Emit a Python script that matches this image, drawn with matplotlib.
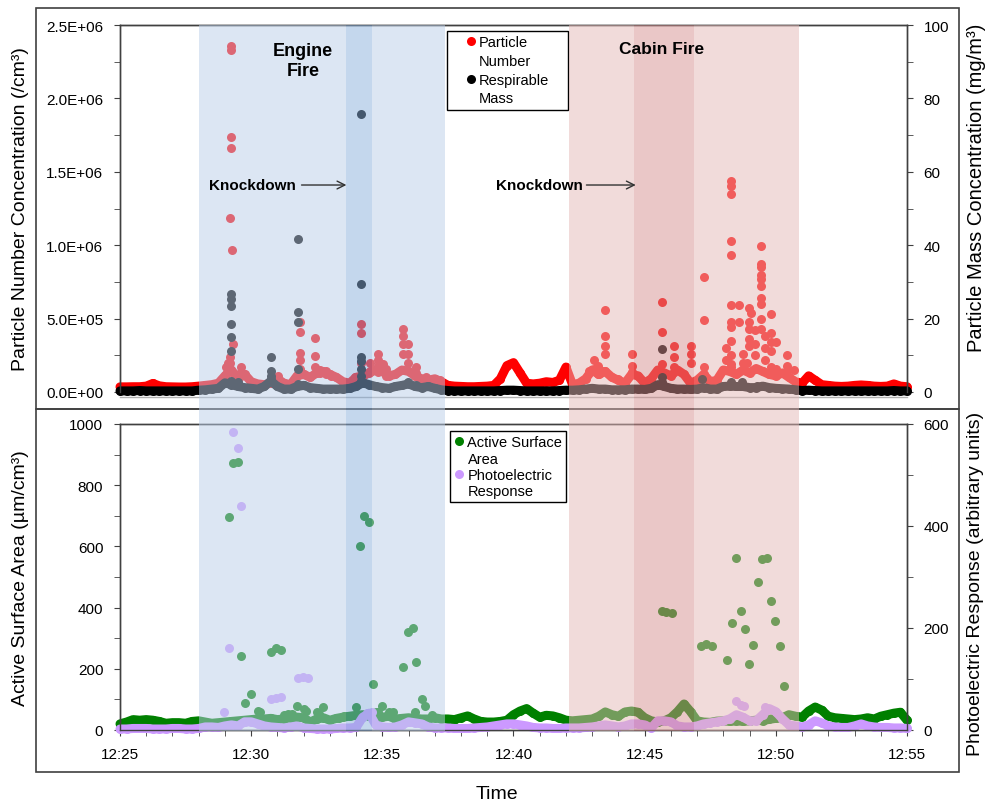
import numpy as np
import matplotlib
matplotlib.use("Agg")
import matplotlib.pyplot as plt
from matplotlib.patches import Rectangle, FancyArrowPatch
from matplotlib.lines import Line2D
import matplotlib.transforms as mtransforms
from matplotlib.ticker import MultipleLocator, FuncFormatter

plt.rcParams['font.family'] = ['Liberation Sans', 'DejaVu Sans']

# ---------------- data (time = minutes after 12:25) ----------------
STEP = 0.25  # base series sampled every 15 s
x_tick_labels = ["12:25", "12:30", "12:35", "12:40", "12:45", "12:50", "12:55"]

# Particle number concentration baseline (x1000 /cm3)
pn_base = [35, 35, 36, 36, 40, 58, 42, 36, 35, 34, 34, 36,
           40, 45, 50, 60, 110, 150, 90, 120, 70, 55, 50, 60, 90, 60, 50, 110, 120, 100, 130, 140, 120, 100,
           70, 60, 100, 110, 130, 150, 140, 110, 120, 150, 140, 110, 90, 80, 90, 70,
           45, 40, 38, 36, 36, 38, 40, 45, 90, 180, 200, 130, 60, 55, 60, 70, 65, 80, 170,
           50, 60, 90, 150, 120, 140, 100, 80, 60, 120, 110, 60, 90, 150, 130, 110, 150, 120, 60, 80,
           120, 70, 80, 150, 140, 120, 150, 130, 160, 140, 120, 110, 130, 100, 70,
           60, 110, 80, 50, 45, 40, 38, 40, 45, 48, 45, 40, 38, 40, 55, 40, 36]
# Particle number spikes: (time, values x1000 /cm3)
pn_spikes = [(4.24, [2360, 2330, 1740, 1660]), (4.20, [1185, 240, 200]), (4.27, [967]), (4.31, [327]),
             (4.05, [170, 120]), (4.12, [200, 150]), (4.62, [170, 136]), (4.50, [110]), (5.92, [90]),
             (6.03, [110]), (6.87, [480, 410, 265, 220, 160]), (7.44, [370, 245, 170]), (7.63, [150, 130]),
             (7.86, [140, 120]), (8.05, [110]), (8.97, [100]), (9.20, [460, 400, 200]), (9.54, [200, 140]),
             (9.85, [260, 220, 180, 135]), (10.04, [190, 140]), (10.15, [160, 110]),
             (10.80, [430, 380, 330, 260]), (10.99, [330, 260, 200]), (11.30, [170, 130]), (11.68, [100]),
             (12.02, [90]), (12.20, [85]),
             (17.86, [140]), (18.05, [220, 160]), (18.24, [180, 120]), (18.36, [140]),
             (18.50, [560, 380, 310, 260]), (19.00, [90]), (19.50, [260, 180, 136]), (20.65, [610, 410, 190]),
             (21.10, [310, 240, 170]), (21.76, [310, 260, 200]), (22.25, [780, 490, 170]),
             (23.10, [300, 220]),
             (23.28, [1440, 1400, 1350, 1030, 930, 590, 480, 440, 350, 250, 190, 170]), (23.59, [590, 480]),
             (23.75, [260, 200]), (23.89, [200]), (23.97, [570, 480, 430, 360, 310]), (24.05, [540]),
             (24.20, [420, 330, 250]),
             (24.43, [995, 870, 850, 800, 770, 720, 640, 600, 500, 430]), (24.60, [380, 300, 220]),
             (24.81, [530, 400, 340, 280, 170]), (25.00, [340, 160]), (25.42, [250, 180, 140]), (25.70, [150])]

# Respirable mass baseline (mg/m3)
rm_base = [0.3, 0.3, 0.3, 0.4, 0.3, 0.3, 0.3, 0.3, 0.3, 0.3, 0.3, 0.3,
           0.5, 0.6, 0.8, 1.0, 2.5, 2.0, 1.5, 1.2, 1.0, 0.8, 1.5, 3.0, 1.5, 0.8, 0.8, 1.5, 1.8, 1.2, 1.0, 0.8,
           0.8, 0.8, 0.8, 1.0, 1.5, 2.5, 2.0, 1.5, 1.2, 1.0, 1.5, 1.8, 2.2, 1.5, 1.2, 1.5, 1.0, 0.6,
           0.4, 0.3, 0.3, 0.3, 0.3, 0.3, 0.3, 0.3, 0.4, 0.5, 0.5, 0.4, 0.3, 0.3, 0.3, 0.3, 0.3, 0.4, 0.5,
           0.5, 0.6, 0.8, 1.0, 0.8, 0.8, 0.6, 0.6, 0.6, 0.8, 0.8, 0.7, 1.0, 2.0, 1.5, 1.0, 0.8, 0.8, 0.7, 0.8,
           1.2, 0.8, 0.8, 1.5, 1.6, 1.5, 1.5, 1.2, 1.2, 1.6, 1.2, 1.0, 0.9, 0.8, 0.6,
           0.4, 0.5, 0.4, 0.3, 0.3, 0.3, 0.3, 0.3, 0.3, 0.3, 0.3, 0.3, 0.3, 0.3, 0.4, 0.3, 0.3]
rm_spikes = [(4.24, [26.7, 25.3, 23.5, 18.5, 15.0, 11.2, 3.0]), (4.50, [2.7]), (5.77, [9.5, 5.8, 4.4, 3.5]),
             (6.80, [41.7, 21.8, 19.0, 6.3, 2.2]), (9.17, [75.7, 29.4, 9.5, 8.4, 6.3, 4.4, 3.0]),
             (10.99, [2.7]), (11.30, [2.0]), (20.65, [11.7, 4.1, 2.7]), (22.20, [3.5]), (23.30, [2.7]),
             (23.70, [2.7]), (24.30, [1.6])]

# Active surface area baseline (um2/cm3)
asa_base = [20, 26, 34, 32, 34, 32, 28, 22, 24, 24, 22, 28,
            30, 26, 22, 24, 26, 28, 30, 32, 34, 36, 36, 38, 34, 36, 40, 42, 40, 26, 36, 40, 32, 38, 42, 45,
            48, 50, 45, 40, 42, 45, 36, 38, 40, 38, 36, 36, 40, 36,
            36, 34, 40, 46, 36, 28, 26, 26, 28, 32, 50, 62, 70, 55, 42, 48, 46, 40, 32,
            30, 32, 34, 36, 45, 59, 50, 45, 59, 62, 58, 40, 30, 26, 30, 40, 60, 85, 60, 30, 26, 25, 29, 30,
            28, 30, 28, 30, 32, 30, 35, 38, 40, 50, 45,
            42, 62, 75, 65, 45, 40, 38, 36, 34, 36, 40, 36, 45, 50, 55, 58, 32]
asa_spikes = [(4.16, [696]), (4.31, [873]), (4.50, [876]), (4.62, [242]), (4.75, [88]), (5.00, [118]),
              (5.25, [62]), (5.76, [255]), (5.95, [268]), (6.15, [261]), (5.34, [59]), (6.25, [50]),
              (6.40, [52]), (6.55, [52]), (6.75, [78]), (7.00, [69]), (7.10, [62]), (7.50, [59]),
              (7.60, [52]), (7.75, [75]), (8.35, [40]), (8.55, [45]), (9.00, [75]), (9.16, [601]),
              (9.31, [699]), (9.50, [680]), (9.66, [150]), (9.75, [59]), (9.85, [59]), (10.00, [78]),
              (10.25, [59]), (10.40, [59]), (10.80, [206]), (10.99, [320]), (11.15, [333]), (11.25, [60]),
              (11.30, [222]), (11.50, [101]), (11.64, [78]), (11.90, [49]),
              (20.65, [389]), (20.80, [384]), (21.03, [382]), (22.14, [275]), (22.33, [281]), (22.56, [275]),
              (23.13, [229]), (23.32, [350]), (23.47, [562]), (23.66, [389]), (23.82, [330]), (23.97, [216]),
              (24.12, [278]), (24.31, [484]), (24.47, [559]), (24.66, [562]), (24.81, [422]), (24.96, [356]),
              (25.15, [275]), (25.30, [144])]

# Photoelectric response baseline (arbitrary units)
pe_base = [2, 2, 3, 3, 3, 2, 2, 2, 3, 3, 2, 2,
           3, 6, 6, 5, 8, 10, 8, 16, 16, 12, 8, 6, 5, 4, 6, 8, 4, 3, 2, 2, 2, 3, 4, 4, 5, 25, 33, 10, 6, 5,
           6, 10, 16, 14, 12, 6, 4, 4,
           4, 3, 3, 3, 4, 5, 6, 8, 10, 12, 12, 10, 8, 5, 4, 4, 3, 3, 4,
           4, 4, 5, 6, 8, 10, 8, 6, 8, 12, 12, 10, 4, 18, 18, 16, 8, 6, 6, 8, 12, 14, 16, 18, 22, 30, 25, 18,
           18, 30, 42, 36, 22, 10, 8,
           6, 10, 18, 14, 8, 6, 5, 5, 8, 12, 8, 6, 5, 5, 4, 4, 3]
pe_spikes = [(3.97, [35]), (4.16, [161]), (4.31, [584]), (4.50, [553]), (4.62, [439]), (5.76, [61]),
             (5.95, [63]), (6.15, [65]), (6.79, [102]), (6.98, [104]), (7.18, [102]), (9.40, [33]),
             (9.60, [35]), (23.47, [57]), (23.66, [50]), (23.80, [47]), (24.60, [45]), (24.75, [42])]

# fire periods (minutes after 12:25)
engine_fire = (3.0, 12.37)
engine_knockdown = (8.6, 9.62)
cabin_fire = (17.1, 25.9)
cabin_knockdown = (19.58, 21.87)

# ---------------- figure ----------------
W, H = 987, 804
fig = plt.figure(figsize=(W / 100, H / 100), dpi=100)


def fx(px):
    return px / W


def fy(py):
    return 1 - py / H


L, R = 120, 907
ax1 = fig.add_axes([fx(L), fy(393), fx(R) - fx(L), (393 - 26) / H])
ax1r = ax1.twinx()
ax2 = fig.add_axes([fx(L), fy(731), fx(R) - fx(L), (731 - 425) / H])
ax2r = ax2.twinx()

MS = 6.5
SPINE = '#404040'


def flat(spikes, scale=1.0):
    ts, vs = [], []
    for t, vals in spikes:
        for v in vals:
            ts.append(t)
            vs.append(v * scale)
    return ts, vs


def draw_series(ax, base, spikes, color, scale=1.0):
    tb = np.arange(len(base)) * STEP
    vb = np.array(base, dtype=float) * scale
    ax.plot(tb, vb, '-', color=color, lw=MS, solid_capstyle='round', solid_joinstyle='round', clip_on=False)
    ax.plot(tb, vb, 'o', color=color, ms=MS, mew=0, clip_on=False)
    ts, vs = flat(spikes, scale)
    ax.plot(ts, vs, 'o', color=color, ms=MS, mew=0, clip_on=False)


draw_series(ax1, pn_base, pn_spikes, '#FF0000', 1e3)
draw_series(ax1r, rm_base, rm_spikes, '#000000')
draw_series(ax2, asa_base, asa_spikes, '#008000')
draw_series(ax2r, pe_base, pe_spikes, '#CC99FF')

# axes limits & ticks
for a in (ax1, ax1r, ax2, ax2r):
    a.set_xlim(0, 30)
    for s in a.spines.values():
        s.set_color(SPINE)
        s.set_linewidth(1.0)

ax1.set_ylim(0, 2.5e6)
ax1.yaxis.set_major_locator(MultipleLocator(5e5))
ax1.yaxis.set_minor_locator(MultipleLocator(2.5e5))
ax1.yaxis.set_major_formatter(FuncFormatter(lambda v, p: f"{v:.1E}"))
ax1r.set_ylim(0, 100)
ax1r.yaxis.set_major_locator(MultipleLocator(20))
ax1r.yaxis.set_minor_locator(MultipleLocator(10))
ax1.tick_params(axis='x', which='both', length=0, labelbottom=False)
ax1r.tick_params(axis='x', which='both', length=0, labelbottom=False)
ax1.spines['bottom'].set_position(('outward', 3.6))
ax1.spines['bottom'].set_color('#b0b0b0')
ax1r.spines['bottom'].set_visible(False)
ax1.spines['top'].set_color('#202020')

ax2.set_ylim(0, 1000)
ax2.yaxis.set_major_locator(MultipleLocator(200))
ax2.yaxis.set_minor_locator(MultipleLocator(100))
ax2r.set_ylim(0, 600)
ax2r.yaxis.set_major_locator(MultipleLocator(200))
ax2r.yaxis.set_minor_locator(MultipleLocator(100))
ax2.set_xticks(np.arange(0, 31, 5))
ax2.set_xticklabels(x_tick_labels)
ax2.xaxis.set_minor_locator(MultipleLocator(1))

for a in (ax1, ax1r, ax2, ax2r):
    a.tick_params(axis='y', which='both', direction='out', length=4, color=SPINE, labelsize=11, pad=8)
ax2.tick_params(axis='x', which='both', direction='out', length=4, color=SPINE, labelsize=11, pad=8)

# axis labels
LAB = 14
ax1.set_ylabel('Particle Number Concentration (/cm³)', fontsize=LAB)
ax1.yaxis.set_label_coords((29 - L) / (R - L), 0.5)
ax1r.set_ylabel('Particle Mass Concentration (mg/m³)', fontsize=14.5)
ax1r.yaxis.set_label_coords((967 - L) / (R - L), 0.56)
ax2.set_ylabel('Active Surface Area (µm/cm³)', fontsize=LAB)
ax2.yaxis.set_label_coords((29 - L) / (R - L), 0.5)
ax2r.set_ylabel('Photoelectric Response (arbitrary units)', fontsize=LAB)
ax2r.yaxis.set_label_coords((967 - L) / (R - L), 0.48)
ax2.set_xlabel('Time', fontsize=LAB)
ax2.xaxis.set_label_coords((497 - L) / (R - L), (731 - 786) / (731 - 425))

# legends
h_pn = Line2D([], [], ls='none', marker='o', color='#FF0000', ms=MS, mew=0)
h_rm = Line2D([], [], ls='none', marker='o', color='#000000', ms=MS, mew=0)
h_asa = Line2D([], [], ls='none', marker='o', color='#008000', ms=MS, mew=0)
h_pe = Line2D([], [], ls='none', marker='o', color='#CC99FF', ms=MS, mew=0)
h_none = Line2D([], [], ls='none')

leg1 = ax1r.legend([h_pn, h_none, h_rm, h_none], ['Particle', 'Number', 'Respirable', 'Mass'],
                   loc='upper left', bbox_to_anchor=(fx(447), fy(110), fx(568) - fx(447), (110 - 32) / H),
                   bbox_transform=fig.transFigure, mode='expand', borderaxespad=0, fontsize=10.5,
                   handlelength=2.7, handletextpad=-0.8, labelspacing=0.32, borderpad=0.3,
                   fancybox=False, framealpha=1, edgecolor='black')
leg1.get_frame().set_linewidth(1.0)
leg2 = ax2r.legend([h_asa, h_none, h_pe, h_none], ['Active Surface', 'Area', 'Photoelectric', 'Response'],
                   loc='upper left', bbox_to_anchor=(fx(450), fy(503), fx(566) - fx(450), (503 - 432) / H),
                   bbox_transform=fig.transFigure, mode='expand', borderaxespad=0, fontsize=10.5,
                   handlelength=0.65, handletextpad=0.25, labelspacing=0.15, borderpad=0.3,
                   fancybox=False, framealpha=1, edgecolor='black')
leg2.get_frame().set_linewidth(1.0)

# outer panel boxes
fig.add_artist(Rectangle((fx(36), fy(410)), fx(959) - fx(36), (410 - 9) / H, fill=False,
                         edgecolor=SPINE, lw=1.2, transform=fig.transFigure, zorder=5))
fig.add_artist(Rectangle((fx(36), fy(773)), fx(959) - fx(36), (773 - 410) / H, fill=False,
                         edgecolor=SPINE, lw=1.2, transform=fig.transFigure, zorder=5))

# fire shading drawn over the data
blend = mtransforms.blended_transform_factory(ax1.transData, fig.transFigure)
bands = [(engine_fire[0], engine_knockdown[0], '#BBCFE9'),
         (engine_knockdown[0], engine_knockdown[1], '#8BB1DD'),
         (engine_knockdown[1], engine_fire[1], '#BBCFE9'),
         (cabin_fire[0], cabin_knockdown[0], '#E5B9B7'),
         (cabin_knockdown[0], cabin_knockdown[1], '#D79191'),
         (cabin_knockdown[1], cabin_fire[1], '#E5B9B7')]
for t0, t1, c in bands:
    fig.add_artist(Rectangle((t0, fy(732)), t1 - t0, (732 - 26) / H, transform=blend, facecolor=c,
                             alpha=0.5, lw=0, antialiased=False, zorder=10))

# annotations
fig.text(6.98, 2.26e6, 'Engine\nFire', transform=ax1.transData, ha='center', va='center', fontsize=13,
         fontweight='bold', linespacing=1.2, zorder=20)
fig.text(20.65, 2.34e6, 'Cabin Fire', transform=ax1.transData, ha='center', va='center', fontsize=12.5,
         fontweight='bold', zorder=20)
for tx, tstart, tend in [(3.40, 6.92, 8.63), (14.35, 17.78, 19.66)]:
    fig.text(tx, 1.41e6, 'Knockdown', transform=ax1.transData, ha='left', va='center', fontsize=11,
             fontweight='bold', zorder=20)
    fig.add_artist(FancyArrowPatch((tstart, 1.41e6), (tend, 1.41e6), transform=ax1.transData,
                                   arrowstyle='->', mutation_scale=14, lw=1.0, color='#333333',
                                   shrinkA=0, shrinkB=0, zorder=20))

fig.savefig('out.png', dpi=100)
